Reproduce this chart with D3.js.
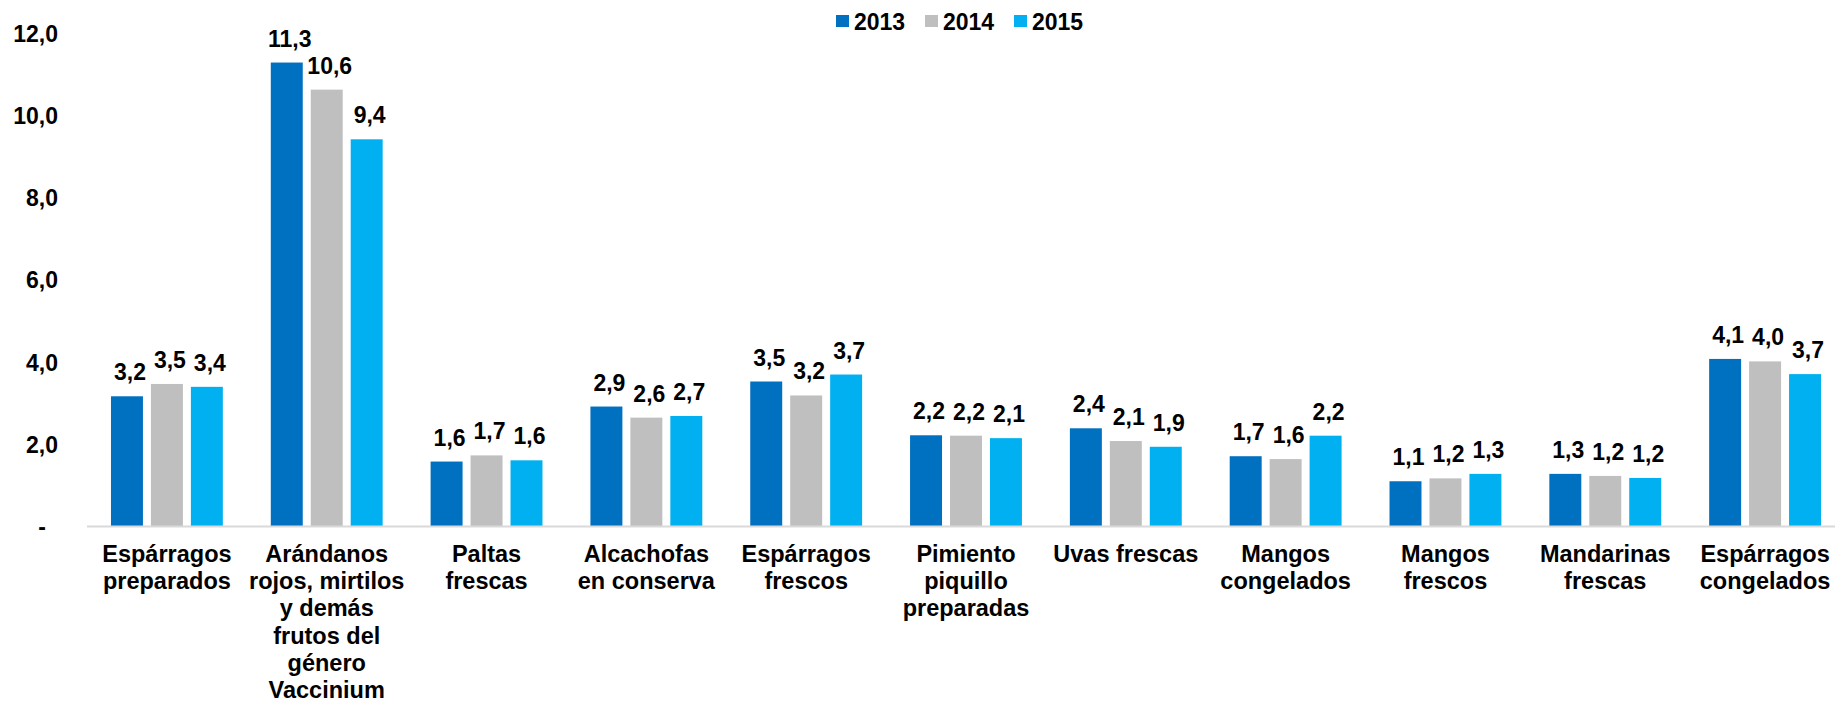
<!DOCTYPE html>
<html>
<head>
<meta charset="utf-8">
<script src="https://cdn.jsdelivr.net/npm/d3@7"></script>
<style>
  html, body { margin: 0; padding: 0; background: #fff; }
  svg { display: block; font-family: "Liberation Sans", Arial, sans-serif; font-weight: bold; }
</style>
</head>
<body>
<svg></svg>
<script>
const categories = [
  ["Espárragos", "preparados"],
  ["Arándanos", "rojos, mirtilos", "y demás", "frutos del", "género", "Vaccinium"],
  ["Paltas", "frescas"],
  ["Alcachofas", "en conserva"],
  ["Espárragos", "frescos"],
  ["Pimiento", "piquillo", "preparadas"],
  ["Uvas frescas"],
  ["Mangos", "congelados"],
  ["Mangos", "frescos"],
  ["Mandarinas", "frescas"],
  ["Espárragos", "congelados"]
]
const years = ["2013", "2014", "2015"]
const v2013 = [3.16, 11.29, 1.57, 2.91, 3.52, 2.21, 2.38, 1.70, 1.09, 1.27, 4.07]
const v2014 = [3.46, 10.63, 1.72, 2.64, 3.18, 2.20, 2.07, 1.63, 1.16, 1.22, 4.01]
const v2015 = [3.39, 9.42, 1.60, 2.68, 3.69, 2.14, 1.93, 2.20, 1.27, 1.17, 3.70]
const yTicks = [0, 2, 4, 6, 8, 10, 12]

const colors = { "2013": "#0070C0", "2014": "#BFBFBF", "2015": "#00B0F0" }
const series = { "2013": v2013, "2014": v2014, "2015": v2015 }

const width = 1835
const height = 703

const svg = d3.select('svg')
  .attr('width', width)
  .attr('height', height)

const keys = categories.map((d, i) => i)

const x0 = d3.scaleBand()
  .domain(keys)
  .range([87, 1845])

const x1 = d3.scaleBand()
  .domain(years)
  .range([0, x0.bandwidth()])
  .paddingInner(0.2)
  .paddingOuter(0.6)

const y = d3.scaleLinear()
  .domain([0, 12])
  .range([526, 33.4])

const fmt = v => d3.format(".1f")(v).replace(".", ",")

// y axis, labels only
const yAxis = svg.append("g")
  .attr("transform", "translate(58,0)")
  .call(d3.axisLeft(y).tickValues(yTicks).tickSize(0).tickPadding(0)
    .tickFormat(d => d === 0 ? "-" : fmt(d)))
yAxis.select(".domain").remove()
yAxis.selectAll("text")
  .style("font-size", "23px")
  .style("font-family", "'Liberation Sans', Arial, sans-serif")
  .style("font-weight", "bold")
  .attr("fill", "#000")
  .attr("dy", "0.36em")
  .attr("dx", d => d === 0 ? -12 : 0)

// bars
const groups = svg.append("g")
  .selectAll("g")
  .data(keys)
  .enter().append("g")
    .attr("transform", d => "translate(" + x0(d) + ",0)")

const cells = groups.selectAll("g")
  .data(i => years.map(yr => ({ year: yr, value: series[yr][i] })))
  .enter().append("g")

cells.append("rect")
  .attr("x", d => x1(d.year))
  .attr("y", d => y(d.value))
  .attr("width", x1.bandwidth())
  .attr("height", d => y(0) - y(d.value))
  .attr("fill", d => colors[d.year])

cells.append("text")
  .attr("x", d => x1(d.year) + x1.bandwidth() / 2 + 3)
  .attr("y", d => y(d.value) - 16)
  .attr("text-anchor", "middle")
  .style("font-size", "23px")
  .attr("fill", "#000")
  .text(d => fmt(d.value))

// x axis line
svg.append("line")
  .attr("x1", 87)
  .attr("x2", width)
  .attr("y1", y(0) + 0.5)
  .attr("y2", y(0) + 0.5)
  .attr("stroke", "#d9d9d9")
  .attr("stroke-width", 2)

// category labels
const catLabels = svg.append("g")
  .selectAll("text")
  .data(keys)
  .enter().append("text")
    .attr("x", d => x0(d) + x0.bandwidth() / 2)
    .attr("y", 562)
    .attr("text-anchor", "middle")
    .style("font-size", "23.5px")
    .attr("fill", "#000")

catLabels.selectAll("tspan")
  .data(d => categories[d])
  .enter().append("tspan")
    .attr("x", function() { return d3.select(this.parentNode).attr("x") })
    .attr("dy", (d, i) => i === 0 ? 0 : 27.2)
    .text(d => d)

// legend
const legend = svg.append("g")
  .selectAll("g")
  .data(years)
  .enter().append("g")
    .attr("transform", (d, i) => "translate(" + (836 + i * 89) + ",0)")

legend.append("rect")
  .attr("x", 0)
  .attr("y", 15)
  .attr("width", 13)
  .attr("height", 12)
  .attr("fill", d => colors[d])

legend.append("text")
  .attr("x", 18)
  .attr("y", 29.5)
  .style("font-size", "23px")
  .attr("fill", "#000")
  .text(d => d)
</script>
</body>
</html>
